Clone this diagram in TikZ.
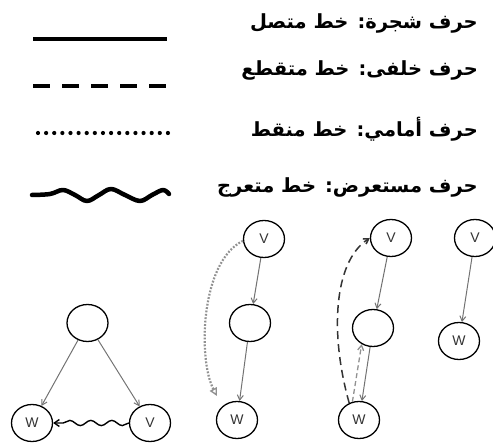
\documentclass[tikz,border=0pt]{standalone}
\usepackage{fontspec}
\newfontfamily\arabicfont[Script=Arabic]{DejaVu Sans}
\newfontfamily\labfont{Liberation Sans}
\TeXXeTstate=1
\usetikzlibrary{arrows.meta,decorations.pathmorphing,shapes.geometric}

\definecolor{edgegray}{RGB}{115,115,115}
\definecolor{lightgray}{RGB}{145,145,145}

\tikzset{
  legendtext/.style={anchor=east, inner sep=0pt, font=\arabicfont\bfseries\fontsize{19.5}{22}\selectfont},
  vert/.style={draw, line width=1.3pt, ellipse, minimum width=41pt, minimum height=37pt, inner sep=0pt,
               font=\labfont\fontsize{14}{16}\selectfont, text=black!80},
  treeedge/.style={draw=edgegray, line width=1pt, -{Straight Barb[length=5pt,width=6pt]}},
  fwdedge/.style={draw=lightgray, line width=2.2pt, dash pattern=on 1.8pt off 1.6pt,
                  -{Triangle[open,length=8pt,width=8pt,line width=1.4pt]}},
  backedge/.style={draw=black!80, line width=1.5pt, dash pattern=on 8pt off 5pt, -{Straight Barb[length=5pt,width=6pt]}},
  backedgegray/.style={draw=lightgray, line width=1.3pt, dash pattern=on 5pt off 3pt, -{Straight Barb[length=5pt,width=6pt]}},
  crossedge/.style={draw=black, line width=1.4pt, decorate,
                    decoration={snake, amplitude=2.6pt, segment length=21pt, post length=6pt},
                    -{Straight Barb[length=5pt,width=7pt]}},
}

\begin{document}
\begin{tikzpicture}[x=1pt, y=-1pt]
\useasboundingbox (0,0) rectangle (493,443);

% legend samples
\draw[line width=4.2pt] (33,39) -- (167,39);
\draw[line width=4.2pt, dash pattern=on 17pt off 12pt] (33,86) -- (167,86);
\draw[line width=4.2pt, line cap=round, dash pattern=on 0pt off 8.12pt] (38,133) -- (168,133);
\draw[line width=4.5pt, line cap=round, line join=round] plot[smooth, tension=0.6] coordinates
  {(32,195) (50,194) (63,190) (75,195) (87,201) (99,195) (111,189) (125,195) (140,201) (152,195) (163,190) (169,194)};

% legend captions
\node[legendtext] (t1) at (478,23) {\beginR حرف شجرة: خط متصل\endR};
\node[legendtext] (t2) at (478,70) {\beginR حرف خلفى: خط متقطع\endR};
\node[legendtext] (t3) at (478,129) {\beginR حرف أمامي: خط منقط\endR};
\node[legendtext] (t4) at (478,187) {\beginR حرف مستعرض: خط متعرج\endR};

% cross edge example
\node[vert] (a) at (87.5,323) {};
\node[vert] (aw) at (32,423) {W};
\node[vert] (av) at (150,423) {V};
\draw[treeedge] (a) -- (aw);
\draw[treeedge] (a) -- (av);
\draw[crossedge] (av.west) -- (aw.east);

% forward edge example
\node[vert] (bv) at (264,239) {V};
\node[vert] (bm) at (250,323) {};
\node[vert] (bw) at (237,420) {W};
\draw[treeedge] (bv) -- (bm);
\draw[treeedge] (bm) -- (bw);
\coordinate (bend) at (217,396);
\draw[fwdedge] (bv.185) .. controls (200,262) and (198,360) .. (bend);

% back edge example
\node[vert] (cv) at (391,238) {V};
\node[vert] (cm) at (373,328) {};
\node[vert] (cw) at (359,420) {W};
\draw[treeedge] (cv) -- (cm);
\draw[treeedge] (cm) -- (cw);
\draw[backedgegray] (cw.110) -- (cm.235);
\draw[backedge] (cw.120) .. controls (330,335) and (333,262) .. (cv.west);

% tree edge example
\node[vert] (dv) at (475,238) {V};
\node[vert] (dw) at (459,341) {W};
\draw[treeedge] (dv) -- (dw);
\end{tikzpicture}
\end{document}
